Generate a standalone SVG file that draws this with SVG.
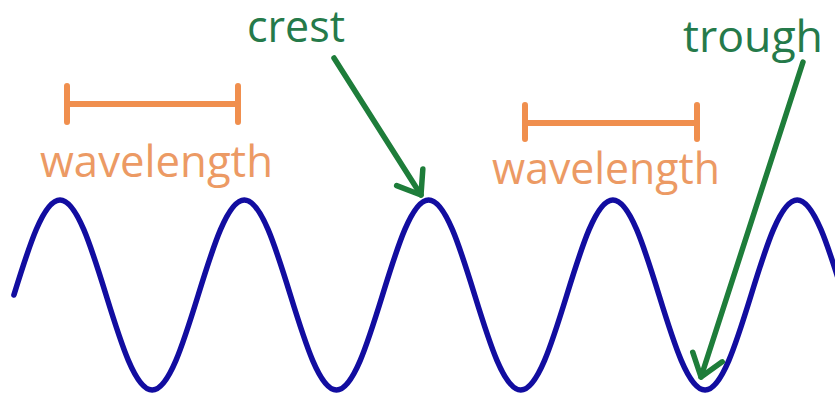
<svg xmlns="http://www.w3.org/2000/svg" width="835" height="398" viewBox="0 0 835 398">
<style>
.lbl{font-family:"Open Sans","Noto Sans","Liberation Sans",sans-serif;font-size:44px}
.wl{fill:#ec9a64}
.gr{fill:#257a4a}
.bar{stroke:#f08f4e;stroke-width:6;stroke-linecap:round;fill:none}
.arrow{stroke:#1e7d3a;stroke-width:5.5;stroke-linecap:round;fill:none}
</style>
<defs>
<marker id="vhead" markerUnits="userSpaceOnUse" markerWidth="50" markerHeight="50" refX="0" refY="0" viewBox="-30 -25 40 50" orient="auto" overflow="visible">
<path d="M-21,-15.5 L0,0 L-21,15.5" stroke="#1e7d3a" stroke-width="5.5" stroke-linecap="round" stroke-linejoin="round" fill="none"/>
</marker>
</defs>
<rect width="835" height="398" fill="#ffffff"/>
<g id="wave">
<path d="M13.9,295 C28.6,247.5 43.25,200 60,200 C93.5,200 118.65,390 152.15,390 C185.65,390 210.8,200 244.3,200 C277.8,200 302.95,390 336.45,390 C369.95,390 395.1,200 428.6,200 C462.1,200 487.25,390 520.75,390 C554.25,390 579.4,200 612.9,200 C646.4,200 671.55,390 705.05,390 C738.55,390 763.7,200 797.2,200 C830.7,200 855.85,390 889.35,390" stroke="#120da0" stroke-width="5.5" fill="none" stroke-linecap="round"/>
</g>
<g id="wavelength-left">
<path class="bar" d="M67,86 V122 M67,104 H238 M238,86 V122"/>
<text class="lbl wl" x="40" y="177" textLength="233" lengthAdjust="spacingAndGlyphs">wavelength</text>
</g>
<g id="wavelength-right">
<path class="bar" d="M525,105 V139 M525,123 H697 M697,105 V139"/>
<text class="lbl wl" x="492" y="184" textLength="228" lengthAdjust="spacingAndGlyphs">wavelength</text>
</g>
<g id="crest-label">
<text class="lbl gr" x="247" y="42" textLength="98" lengthAdjust="spacingAndGlyphs">crest</text>
</g>
<g id="trough-label">
<text class="lbl gr" x="683" y="52" textLength="140" lengthAdjust="spacingAndGlyphs">trough</text>
</g>
<g id="connectors">
<line class="arrow" x1="334" y1="58" x2="421" y2="195" marker-end="url(#vhead)"/>
<line class="arrow" x1="803" y1="62" x2="701" y2="377" marker-end="url(#vhead)"/>
</g>
</svg>
